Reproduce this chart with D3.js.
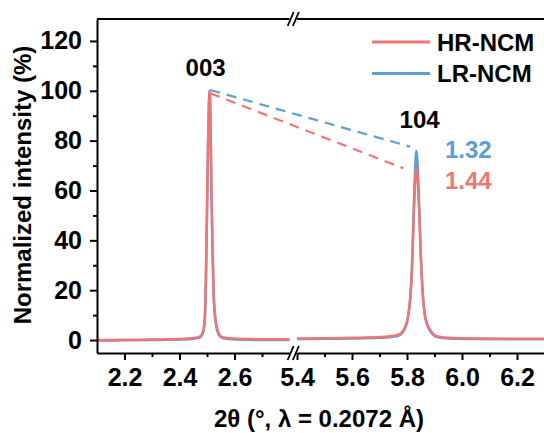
<!DOCTYPE html>
<html>
<head>
<meta charset="utf-8">
<script src="https://cdn.jsdelivr.net/npm/d3@7/dist/d3.min.js"></script>
<style>
body{margin:0;background:#fff}
svg text{font-family:"Liberation Sans",Arial,sans-serif;font-weight:bold;fill:#000}
</style>
</head>
<body>
<svg id="myGraph" width="544" height="433"></svg>
<script>
// series names
var seriesNames = ["HR-NCM", "LR-NCM"];
// 2theta values, low-angle segment (003 peak)
var angleLow = [2.10,2.20,2.30,2.40,2.45,2.47,2.48,2.487,2.492,2.496,2.500,2.504,2.507,2.509,2.512,2.516,2.520,2.524,2.528,2.533,2.537,2.545,2.555,2.58,2.65,2.72,2.80];
var hrLow = [0.0,0.1,0.2,0.4,0.8,1.2,2.0,4,9,25,52,80,95,100,93,62,38,20,12,7,4.5,2.2,1.2,0.7,0.4,0.3,0.3];
var lrLow = [-0.2,-0.1,0.0,0.2,0.5,0.9,1.6,3.5,8,24,51,79,95,100,92,60,36,18,10.5,6,3.8,1.8,0.9,0.4,0.1,0.0,0.0];
// 2theta values, high-angle segment (104 peak)
var angleHigh = [5.40,5.50,5.60,5.70,5.75,5.775,5.79,5.80,5.806,5.812,5.818,5.824,5.829,5.834,5.839,5.844,5.850,5.857,5.864,5.872,5.882,5.895,5.91,5.95,6.05,6.20,6.30];
var hrHigh = [0.6,0.7,0.9,1.2,1.7,2.5,4.5,7.5,11,17,28,48,62,69.4,64,52,34,19,11,7,4.5,2.5,1.5,0.9,0.6,0.5,0.5];
var lrHigh = [0.4,0.5,0.6,0.9,1.3,2.1,4.0,7,11,17,29,51,67,75.8,69,55,35,19,10.5,6.5,4,2.1,1.2,0.6,0.4,0.3,0.3];
// ticks
var yTicks = [0,20,40,60,80,100,120];
var yMinor = [10,30,50,70,90,110];
var xTicksLow = [2.2,2.4,2.6];
var xMinorLow = [2.3,2.5,2.7];
var xTicksHigh = [5.4,5.6,5.8,6.0,6.2];
var xMinorHigh = [5.5,5.7,5.9,6.1];
// peak labels and I(003)/I(104) ratio guide lines
var peakLabels = ["003", "104"];
var peakPos = [2.495, 5.835];
var ratioLabels = ["1.32", "1.44"];        // LR, HR
var ratioStart = [[2.512, 100.3], [2.512, 99.0]];
var ratioEnd = [[5.811, 77.6], [5.787, 68.9]];

var colors = ["#f07676", "#5a9fd6"];
var svg = d3.select("#myGraph");
var pLeft = 97, pTop = 19, pBottom = 353, pRight = 544;

var xLow = d3.scaleLinear().domain([2.1, 2.8]).range([pLeft, pLeft + 0.7 * 275]);
var xHigh = d3.scaleLinear().domain([5.4, 6.3]).range([297, 297 + 0.9 * 275]);
var xs = [xLow, xHigh];
var y = d3.scaleLinear().domain([-5.2, 128.8]).range([pBottom, pTop]);

// data lines, blue below red
var line = function(xScale){
	return d3.line().curve(d3.curveMonotoneX)
		.x(function(d){ return xScale(d[0]); })
		.y(function(d){ return y(d[1]); });
};
var drawSeries = [[lrLow, lrHigh, colors[1]], [hrLow, hrHigh, colors[0]]];
drawSeries.forEach(function(s){
	svg.append("path").attr("fill","none").attr("stroke",s[2]).attr("stroke-width",2.5)
		.attr("d", line(xLow)(d3.zip(angleLow, s[0])));
	svg.append("path").attr("fill","none").attr("stroke",s[2]).attr("stroke-width",2.5)
		.attr("d", line(xHigh)(d3.zip(angleHigh, s[1])));
});

// ratio guide lines (span the break)
var guideColors = [colors[1], colors[0]];
for (var i = 0; i < 2; i++) {
	svg.append("line")
		.attr("x1", xLow(ratioStart[i][0])).attr("y1", y(ratioStart[i][1]))
		.attr("x2", xHigh(ratioEnd[i][0])).attr("y2", y(ratioEnd[i][1]))
		.attr("stroke", guideColors[i]).attr("stroke-width", 2.2)
		.attr("stroke-dasharray", "10,7");
}

// y axis
svg.append("g").attr("transform","translate("+pLeft+",0)")
	.call(d3.axisLeft(y).tickValues(yTicks).tickSize(7).tickPadding(8).tickSizeOuter(0));
svg.append("g").attr("transform","translate("+pLeft+",0)")
	.call(d3.axisLeft(y).tickValues(yMinor).tickSize(4).tickFormat("").tickSizeOuter(0))
	.select(".domain").remove();

// x axes, one per segment
var xMaj = [xTicksLow, xTicksHigh], xMin = [xMinorLow, xMinorHigh];
for (var k = 0; k < 2; k++) {
	svg.append("g").attr("transform","translate(0,"+pBottom+")")
		.call(d3.axisBottom(xs[k]).tickValues(xMaj[k]).tickSize(7).tickPadding(8)
			.tickSizeOuter(0).tickFormat(d3.format(".1f")));
	svg.append("g").attr("transform","translate(0,"+pBottom+")")
		.call(d3.axisBottom(xs[k]).tickValues(xMin[k]).tickSize(4).tickFormat("").tickSizeOuter(0))
		.select(".domain").remove();
	// top frame
	svg.append("line").attr("x1", xs[k].range()[0]).attr("x2", k ? pRight : xs[k].range()[1])
		.attr("y1", pTop).attr("y2", pTop).attr("stroke","#000").attr("stroke-width",2);
}
svg.selectAll(".domain").attr("stroke-width",2);
svg.selectAll(".tick line").attr("stroke-width",2);
svg.selectAll(".tick text").style("font-size","25px");

// break marks
var bx = (xLow.range()[1] + xHigh.range()[0]) / 2;
[pTop, pBottom].forEach(function(by){
	[-2.6, 2.6].forEach(function(off){
		svg.append("line")
			.attr("x1", bx + off - 3).attr("y1", by + 7)
			.attr("x2", bx + off + 3).attr("y2", by - 7)
			.attr("stroke","#000").attr("stroke-width",1.8);
	});
});

// axis titles
svg.append("text").attr("x", 319).attr("y", 427).attr("text-anchor","middle")
	.style("font-size","24px").text("2θ (°, λ = 0.2072 Å)");
svg.append("text").attr("transform","translate(31,185) rotate(-90)").attr("text-anchor","middle")
	.style("font-size","24px").text("Normalized intensity (%)");

// peak labels
svg.append("text").attr("x", xLow(peakPos[0])).attr("y", 76).attr("text-anchor","middle")
	.style("font-size","24px").text(peakLabels[0]);
svg.append("text").attr("x", xHigh(peakPos[1]) + 3).attr("y", 128).attr("text-anchor","middle")
	.style("font-size","24px").text(peakLabels[1]);
svg.append("text").attr("x", 445).attr("y", 158).style("font-size","24px")
	.style("fill", colors[1]).text(ratioLabels[0]);
svg.append("text").attr("x", 445).attr("y", 189).style("font-size","24px")
	.style("fill", colors[0]).text(ratioLabels[1]);

// legend
seriesNames.forEach(function(name, i){
	var ly = 42 + i * 31.5;
	svg.append("line").attr("x1", 372).attr("x2", 430).attr("y1", ly).attr("y2", ly)
		.attr("stroke", colors[i]).attr("stroke-width", 3);
	svg.append("text").attr("x", 437).attr("y", ly + 8.5).style("font-size","24px").text(name);
});
</script>
</body>
</html>
